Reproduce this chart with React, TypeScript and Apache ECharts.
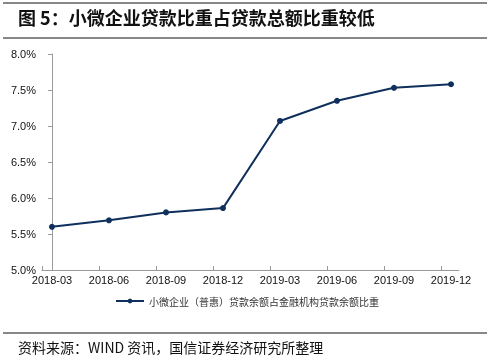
import React, { useEffect, useRef } from "react";
import * as echarts from "echarts";

const categories = ["2018-03", "2018-06", "2018-09", "2018-12", "2019-03", "2019-06", "2019-09", "2019-12"];
const shareValues = [5.6, 5.69, 5.8, 5.86, 7.07, 7.35, 7.53, 7.58];
const yTicks = { min: 5, max: 8, interval: 0.5 };
const seriesName = "小微企业（普惠）贷款余额占金融机构贷款余额比重";
const titleText = "图 5：小微企业贷款比重占贷款总额比重较低";
const sourceText = "资料来源：WIND 资讯，国信证券经济研究所整理";

const xOffset = 0.175;

export default function App() {
  const ref = useRef<HTMLDivElement>(null);
  useEffect(() => {
    if (!ref.current) return;
    const chart = echarts.init(ref.current, null, { renderer: "svg" });
    const idx = categories.map((_, i) => i);
    const font = "'Noto Sans CJK SC', 'Liberation Sans', Arial, sans-serif";
    chart.setOption({
      animation: false,
      textStyle: { fontFamily: font },
      grid: { left: 42, right: 38, top: 54, bottom: 91, containLabel: false },
      xAxis: {
        type: "value",
        min: -xOffset,
        max: categories.length - 1 + 0.14,
        axisLine: { show: true, lineStyle: { color: "#9a9a9a", width: 1 } },
        axisTick: {
          show: true,
          length: 4,
          inside: true,
          customValues: idx.map((i) => i - xOffset),
          lineStyle: { color: "#9a9a9a" },
        },
        axisLabel: {
          customValues: idx,
          formatter: (v: number) => categories[Math.round(v)] ?? "",
          color: "#111",
          fontSize: 11,
          fontFamily: "'Liberation Sans', Arial, sans-serif",
          margin: 4,
        },
        splitLine: { show: false },
      },
      yAxis: {
        type: "value",
        min: yTicks.min,
        max: yTicks.max,
        interval: yTicks.interval,
        axisLine: { show: true, lineStyle: { color: "#9a9a9a", width: 1 } },
        axisTick: { show: true, length: 4, lineStyle: { color: "#9a9a9a" } },
        axisLabel: {
          formatter: (v: number) => v.toFixed(1) + "%",
          color: "#111",
          fontSize: 11,
          fontFamily: "'Liberation Sans', Arial, sans-serif",
          margin: 6,
        },
        splitLine: { show: false },
      },
      legend: {
        data: [seriesName],
        left: 110,
        top: 291,
        itemWidth: 28,
        itemHeight: 6,
        itemGap: 4,
        textStyle: { fontSize: 10, color: "#333", fontFamily: font },
      },
      series: [
        {
          name: seriesName,
          type: "line",
          data: shareValues.map((v, i) => [i, v]),
          symbol: "circle",
          symbolSize: 6,
          lineStyle: { color: "#0f2f5c", width: 2 },
          itemStyle: { color: "#0f2f5c" },
        },
      ],
      graphic: [
        { type: "line", shape: { x1: 3, y1: 3, x2: 487, y2: 3 }, style: { stroke: "#111", lineWidth: 1 } },
        {
          type: "text",
          left: 18,
          top: 8,
          style: { text: titleText, font: `bold 18px ${font}`, fill: "#111" },
        },
        { type: "line", shape: { x1: 3, y1: 38, x2: 487, y2: 38 }, style: { stroke: "#111", lineWidth: 1 } },
        { type: "line", shape: { x1: 3, y1: 333, x2: 487, y2: 333 }, style: { stroke: "#111", lineWidth: 1 } },
        {
          type: "text",
          left: 18,
          top: 340,
          style: { text: sourceText, font: `14px ${font}`, fill: "#111" },
        },
      ],
    });
    return () => chart.dispose();
  }, []);
  return <div ref={ref} style={{ position: "fixed", left: 0, top: 0, width: 497, height: 361 }} />;
}
